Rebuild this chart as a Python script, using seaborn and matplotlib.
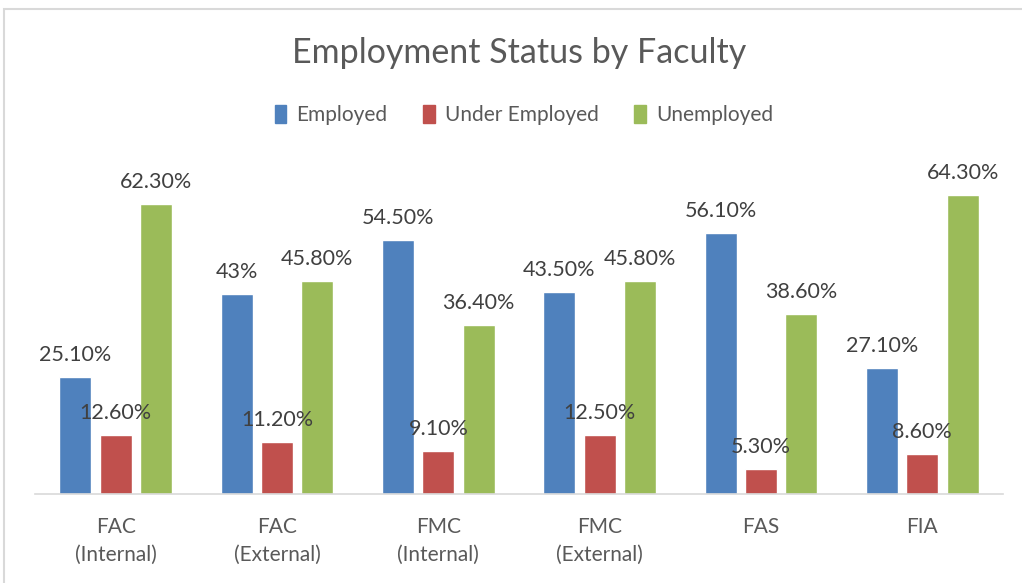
import matplotlib
matplotlib.use("Agg")
import matplotlib.pyplot as plt
import matplotlib.patches as mpatches
import seaborn as sns
import pandas as pd

categories = ["FAC\n(Internal)", "FAC\n(External)", "FMC\n(Internal)",
              "FMC\n(External)", "FAS", "FIA"]
series = ["Employed", "Under Employed", "Unemployed"]
employed = [25.1, 43.0, 54.5, 43.5, 56.1, 27.1]
under_employed = [12.6, 11.2, 9.1, 12.5, 5.3, 8.6]
unemployed = [62.3, 45.8, 36.4, 45.8, 38.6, 64.3]
employed_labels = ["25.10%", "43%", "54.50%", "43.50%", "56.10%", "27.10%"]
under_labels = ["12.60%", "11.20%", "9.10%", "12.50%", "5.30%", "8.60%"]
unemployed_labels = ["62.30%", "45.80%", "36.40%", "45.80%", "38.60%", "64.30%"]
colors = ["#4F81BD", "#C0504D", "#9BBB59"]

rows = []
for s, vals in zip(series, [employed, under_employed, unemployed]):
    for c, v in zip(categories, vals):
        rows.append({"Faculty": c, "Status": s, "Value": v})
df = pd.DataFrame(rows)

sns.set_theme(style="white")
plt.rcParams["font.family"] = ["Lato", "DejaVu Sans"]
TXT = "#595959"

fig = plt.figure(figsize=(10.22, 5.83), dpi=100)
ax = fig.add_axes([35 / 1022, (583 - 493.5) / 583, 968 / 1022, 325 / 583])

sns.barplot(data=df, x="Faculty", y="Value", hue="Status", order=categories,
            hue_order=series, palette=colors, width=0.75, gap=0.2,
            saturation=1, errorbar=None, ax=ax, legend=False)

ax.set_xlim(-0.5, 5.5)
ax.set_ylim(0, 70)
ax.set_xlabel("")
ax.set_ylabel("")
ax.set_yticks([])
for side in ["left", "right", "top"]:
    ax.spines[side].set_visible(False)
ax.spines["bottom"].set_color("#D9D9D9")
ax.spines["bottom"].set_linewidth(1.2)
ax.tick_params(axis="x", length=0, pad=17, labelsize=15, labelcolor=TXT)
for t in ax.get_xticklabels():
    t.set_linespacing(1.5)

for cont, labs in zip(ax.containers, [employed_labels, under_labels, unemployed_labels]):
    for bar, lab in zip(cont, labs):
        x = bar.get_x() + bar.get_width() / 2
        y = bar.get_height()
        ax.annotate(lab, (x, y), xytext=(0, 11.5), textcoords="offset points",
                    ha="center", va="baseline", fontsize=15.5, color="#404040")

fig.text(519 / 1022, 1 - 53 / 583, "Employment Status by Faculty", ha="center",
         va="center", fontsize=24.5, color=TXT)

handles = [mpatches.Patch(facecolor=c, edgecolor=c, label=s) for c, s in zip(colors, series)]
fig.legend(handles=handles, loc="center", bbox_to_anchor=(524 / 1022, 1 - 115 / 583),
           ncol=3, frameon=False, fontsize=15, labelcolor=TXT, handlelength=0.55,
           handleheight=1.0, handletextpad=0.5, columnspacing=1.7)

border = mpatches.Rectangle((4 / 1022, -0.05), 1.05, 1 - 9 / 583 + 0.05,
                            transform=fig.transFigure, fill=False,
                            edgecolor="#D9D9D9", linewidth=1.5)
fig.add_artist(border)

fig.savefig("out.png", dpi=100)
